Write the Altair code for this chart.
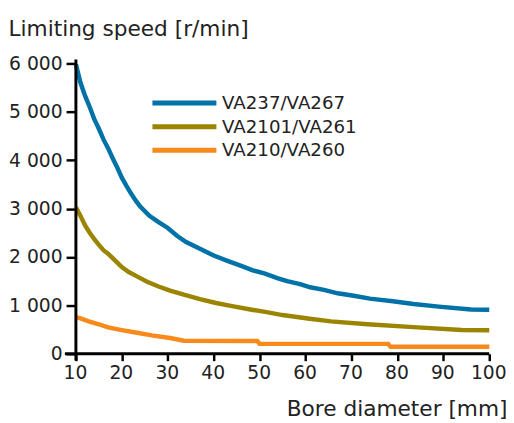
import altair as alt
import pandas as pd

series_names = ["VA237/VA267", "VA2101/VA261", "VA210/VA260"]
series_colors = ["#0072a8", "#9b8500", "#f88a1c"]

blue_d = [10, 11, 12, 13, 14, 15, 16, 17, 18, 19, 20, 21, 22, 23, 24, 26, 28, 30, 32, 34, 37, 40, 43, 46,
          48.5, 51, 54, 56, 59, 61, 64, 67, 70.5, 74, 79, 83.5, 89, 96, 100]
blue_v = [5980, 5600, 5330, 5100, 4850, 4650, 4430, 4250, 4040, 3850, 3640, 3470, 3310, 3170, 3040, 2850,
          2720, 2600, 2440, 2310, 2170, 2030, 1920, 1815, 1725, 1660, 1560, 1500, 1435, 1375, 1320, 1250,
          1200, 1140, 1085, 1030, 975, 915, 910]

olive_d = [10, 11, 12, 13, 14, 15, 16, 17, 18.5, 20, 21.5, 23.5, 25.5, 28, 30.5, 33.5, 37, 40.5, 44, 48,
           51.5, 55, 60.5, 65.5, 73.5, 83.5, 94, 100]
olive_v = [3030, 2850, 2650, 2500, 2370, 2250, 2140, 2070, 1930, 1790, 1690, 1590, 1490, 1390, 1305, 1220,
           1130, 1050, 985, 915, 860, 800, 730, 670, 610, 550, 490, 485]

orange_d = [10, 11, 12.8, 15, 17, 20, 23, 26.5, 30.5, 33.5, 49.5, 50, 78, 78.5, 100]
orange_v = [760, 730, 670, 610, 545, 490, 440, 380, 325, 270, 264, 205, 205, 145, 145]

x_ticks = [10, 20, 30, 40, 50, 60, 70, 80, 90, 100]
y_ticks = [0, 1000, 2000, 3000, 4000, 5000, 6000]
x_domain = [10, 100]
y_domain = [0, 6000]

# axis line extents (overhang beyond the plot, as in the original)
x_axis_line = pd.DataFrame({"x1": [7.6], "x2": [100], "y": [0]})
y_axis_line = pd.DataFrame({"x": [10], "y1": [-140], "y2": [6080]})

rows = []
for name, ds, vs in zip(series_names, [blue_d, olive_d, orange_d], [blue_v, olive_v, orange_v]):
    for d, v in zip(ds, vs):
        rows.append({"series": name, "d": d, "v": v})
df = pd.DataFrame(rows)

FONT = "DejaVu Sans"
TXT = "#222222"

xscale = alt.Scale(domain=x_domain, nice=False, zero=False)
yscale = alt.Scale(domain=y_domain, nice=False)

lines = alt.Chart(df).mark_line(strokeWidth=4.5, strokeCap="butt", clip=False).encode(
    x=alt.X("d:Q", scale=xscale,
            axis=alt.Axis(values=x_ticks, title="Bore diameter [mm]", grid=False, domain=False,
                          labelFlush=False, labelOverlap=False, labelOffset=-1,
                          tickColor="black", tickWidth=2.5, tickSize=7, labelPadding=3,
                          labelFont=FONT, labelFontSize=19, labelColor=TXT,
                          titleFont=FONT, titleFontSize=22, titleFontWeight="normal", titleColor=TXT,
                          titleAlign="right", titleAnchor="end", titleBaseline="alphabetic",
                          titleX=438, titleY=63)),
    y=alt.Y("v:Q", scale=yscale,
            axis=alt.Axis(values=y_ticks, title="Limiting speed [r/min]", grid=False, domain=False,
                          labelExpr="replace(format(datum.value, ','), ',', ' ')",
                          labelOverlap=False, labelFlush=False,
                          tickColor="black", tickWidth=2.5, tickSize=10, labelPadding=4,
                          labelFont=FONT, labelFontSize=19, labelColor=TXT,
                          titleFont=FONT, titleFontSize=22, titleFontWeight="normal", titleColor=TXT,
                          titleAngle=0, titleAlign="left", titleBaseline="alphabetic",
                          titleX=-69, titleY=-28)),
    color=alt.Color("series:N", scale=alt.Scale(domain=series_names, range=series_colors),
                    legend=alt.Legend(title=None, orient="none", legendX=101, legendY=31,
                                      symbolType="M-5,0H5", symbolSize=169, symbolStrokeWidth=5,
                                      labelFont=FONT, labelFontSize=18.5, labelColor=TXT,
                                      labelOffset=29, rowPadding=3, padding=0)),
)

xline = alt.Chart(x_axis_line).mark_rule(color="black", strokeWidth=3, clip=False).encode(
    x=alt.X("x1:Q", scale=xscale), x2="x2:Q", y=alt.Y("y:Q", scale=yscale))
yline = alt.Chart(y_axis_line).mark_rule(color="black", strokeWidth=3, clip=False).encode(
    x=alt.X("x:Q", scale=xscale), y=alt.Y("y1:Q", scale=yscale), y2="y2:Q")

chart = alt.layer(lines, xline, yline).properties(
    width=420, height=295,
    autosize=alt.AutoSizeParams(type="none"),
    padding={"left": 69, "top": 53, "right": 17, "bottom": 67},
    background="white",
).configure_view(stroke=None)

chart.save("out.html", embed_options={"renderer": "svg", "actions": False})
